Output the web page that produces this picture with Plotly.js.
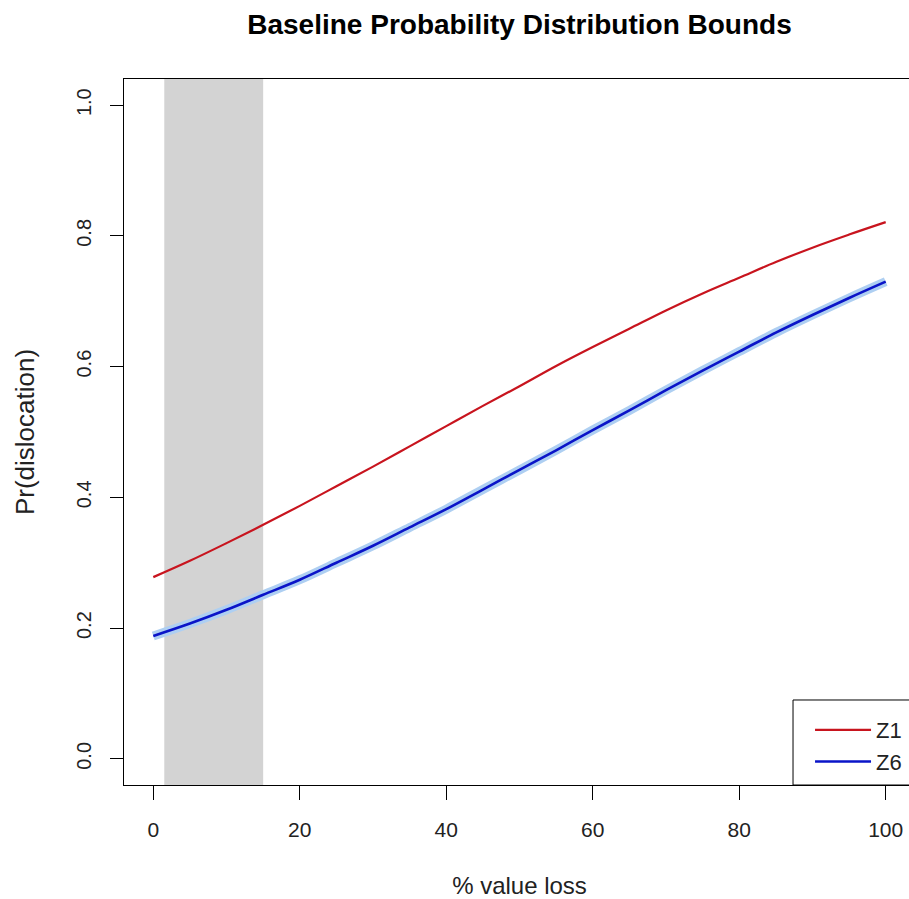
<!DOCTYPE html>
<html>
<head>
<meta charset="utf-8">
<script src="https://cdn.plot.ly/plotly-3.0.1.min.js"></script>
<style>
html,body{margin:0;padding:0;overflow:hidden;background:#fff;}
#chart{width:940px;height:899px;}
</style>
</head>
<body>
<div id="chart"></div>
<script>
// Data
const valueLoss = [0,5,10,15,20,25,30,35,40,45,50,55,60,65,70,75,80,85,90,95,100];
const z1 = [0.278,0.303,0.330,0.358,0.387,0.417,0.447,0.478,0.509,0.540,0.570,0.601,0.630,0.658,0.686,0.712,0.736,0.760,0.782,0.802,0.821];
const z6 = [0.188,0.207,0.228,0.251,0.274,0.300,0.326,0.354,0.382,0.412,0.442,0.472,0.503,0.533,0.564,0.594,0.623,0.652,0.679,0.705,0.730];
const bandRange = [1.5, 15];
const xTicks = [0,20,40,60,80,100];
const yTicks = [0.0,0.2,0.4,0.6,0.8,1.0];
const yTickLabels = ["0.0","0.2","0.4","0.6","0.8","1.0"];

const FONT = "Liberation Sans, Arial, sans-serif";

const traces = [
  {x: valueLoss, y: z6, mode: 'lines', line: {color: '#aecff2', width: 9, shape: 'spline'}, showlegend: false, hoverinfo: 'skip'},
  {x: valueLoss, y: z1, mode: 'lines', name: 'Z1', line: {color: '#c8141e', width: 2.2, shape: 'spline'}},
  {x: valueLoss, y: z6, mode: 'lines', name: 'Z6', line: {color: '#0a14c8', width: 2.6, shape: 'spline'}}
];

const layout = {
  width: 940, height: 899,
  margin: {l: 124, r: 25, t: 79, b: 114},
  paper_bgcolor: '#fff', plot_bgcolor: '#fff',
  font: {family: FONT, color: '#000', size: 20},
  title: {text: '<b>Baseline Probability Distribution Bounds</b>', font: {family: FONT, size: 28, color: '#000'}, x: 0.5, xref: 'paper', y: 0.973, yref: 'container', yanchor: 'middle'},
  xaxis: {
    range: [-4, 104], tickvals: xTicks, ticktext: xTicks.map(String),
    ticks: 'outside', ticklen: 14, tickwidth: 1, tickcolor: '#000',
    showline: true, linecolor: '#000', linewidth: 1, mirror: true,
    showgrid: false, zeroline: false,
    tickfont: {family: FONT, size: 21, color: '#222'},
    ticklabelstandoff: 12,
    title: {text: '% value loss', font: {family: FONT, size: 24, color: '#222'}, standoff: 39}
  },
  yaxis: {
    range: [-0.04, 1.04], tickvals: yTicks, ticktext: yTickLabels,
    ticks: 'outside', ticklen: 13, tickwidth: 1, tickcolor: '#000',
    showline: true, linecolor: '#000', linewidth: 1, mirror: true,
    showgrid: false, zeroline: false, tickangle: -90,
    tickfont: {family: FONT, size: 20, color: '#222'},
    ticklabelstandoff: 11,
    title: {text: 'Pr(dislocation)', font: {family: FONT, size: 26, color: '#222'}, standoff: 30}
  },
  shapes: [
    {type: 'rect', xref: 'x', yref: 'paper', x0: bandRange[0], x1: bandRange[1], y0: 0, y1: 1, fillcolor: '#d3d3d3', line: {width: 0}, layer: 'below'},
    {type: 'rect', xref: 'paper', yref: 'paper', x0: 0.8458, x1: 1.1, y0: 0, y1: 0.1204, fillcolor: 'rgba(0,0,0,0)', line: {color: '#000', width: 1}, layer: 'above'}
  ],
  legend: {
    x: 0.8673, xanchor: 'left', y: 0.1076, yanchor: 'top',
    borderwidth: 0, bgcolor: 'rgba(0,0,0,0)',
    font: {family: FONT, size: 22, color: '#222'},
    itemwidth: 56,
    tracegroupgap: 0
  },
  showlegend: true
};

Plotly.newPlot('chart', traces, layout, {displayModeBar: false, staticPlot: true});
</script>
</body>
</html>
